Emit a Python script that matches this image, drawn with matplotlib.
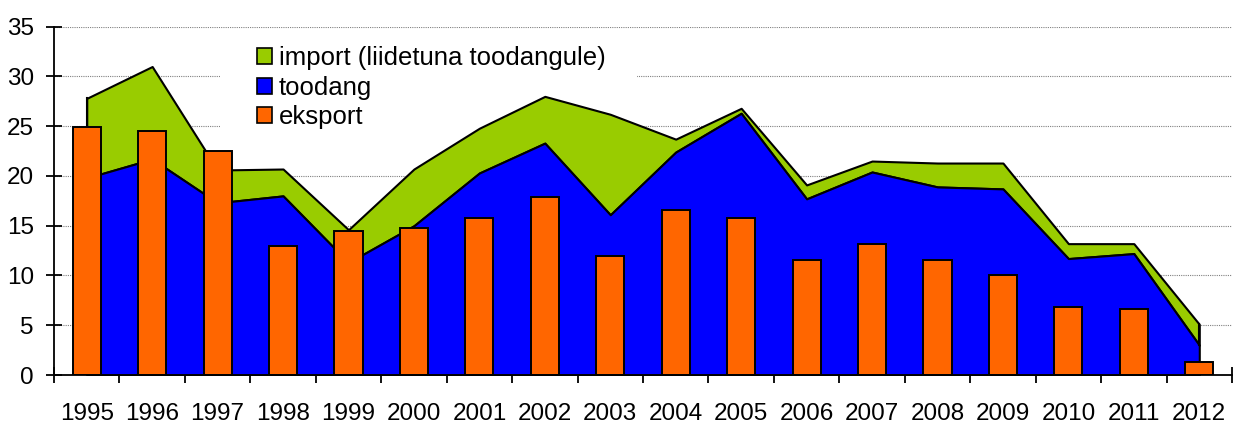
import matplotlib
matplotlib.use("Agg")
import matplotlib.pyplot as plt
import numpy as np
from matplotlib.patches import Rectangle, Patch

years = ["1995", "1996", "1997", "1998", "1999", "2000", "2001", "2002", "2003",
         "2004", "2005", "2006", "2007", "2008", "2009", "2010", "2011", "2012"]
toodang = [19.8, 21.7, 17.3, 18.0, 11.3, 15.0, 20.3, 23.3, 16.1,
           22.4, 26.3, 17.7, 20.4, 18.9, 18.7, 11.7, 12.2, 3.0]
import_ = [8.0, 9.3, 3.3, 2.7, 3.3, 5.7, 4.5, 4.7, 10.1,
           1.3, 0.5, 1.4, 1.1, 2.4, 2.6, 1.5, 1.0, 2.1]
eksport = [24.9, 24.5, 22.5, 13.0, 14.5, 14.8, 15.8, 17.9, 12.0,
           16.6, 15.8, 11.6, 13.2, 11.6, 10.0, 6.8, 6.6, 1.35]
labels = ["import (liidetuna toodangule)", "toodang", "eksport"]

GREEN = "#99CC00"
BLUE = "#0000FF"
ORANGE = "#FF6600"
FS = 17.5
LFS = 18.5

plt.rcParams['font.family'] = ['Liberation Sans', 'DejaVu Sans']
plt.rcParams['font.size'] = FS

W, H = 1242, 426
fig = plt.figure(figsize=(W / 100, H / 100), dpi=100)
L, R, B, T = 54, 1232, 375, 26.7
ax = fig.add_axes([L / W, 1 - B / H, (R - L) / W, (B - T) / H])

x = np.arange(len(years))
total = np.array(toodang) + np.array(import_)

ax.fill_between(x, toodang, total, facecolor=GREEN, edgecolor="black", linewidth=1.5, zorder=2)
ax.fill_between(x, 0, toodang, facecolor=BLUE, edgecolor="black", linewidth=1.5, zorder=3)
ax.plot([x[0], x[0]], [toodang[0], total[0]], color="black", lw=1.5, zorder=3)
ax.plot([x[-1], x[-1]], [toodang[-1], total[-1]], color="black", lw=1.5, zorder=3)
ax.bar(x, eksport, width=0.43, color=ORANGE, edgecolor="black", linewidth=1.4, zorder=4)

ax.set_xlim(-0.5, len(years) - 0.5)
ax.set_ylim(0, 35)
ax.set_yticks(np.arange(0, 36, 5))
ax.set_xticks(x)
ax.set_xticklabels(years)
ax.set_xticks(np.arange(-0.5, len(years), 1), minor=True)
ax.tick_params(axis='x', which='major', length=0, pad=20, labelsize=FS)
ax.tick_params(axis='x', which='minor', length=11, width=1.3, direction='inout')
ax.tick_params(axis='y', which='major', length=11, width=1.3, direction='inout', pad=9, labelsize=FS)

for yv in range(5, 36, 5):
    ax.axhline(yv, color="#808080", lw=0.8, ls=(0, (1, 1)), zorder=0.5)

for s in ["top", "right"]:
    ax.spines[s].set_visible(False)
for s in ["left", "bottom"]:
    ax.spines[s].set_linewidth(1.3)
    ax.spines[s].set_zorder(6)

# white legend background (behind series, above grid)
def px2ax(px, py):
    return (px - L) / (R - L), (B - py) / (B - T)
x0, y1 = px2ax(220, 35)
x1, y0 = px2ax(637, 140)
ax.add_patch(Rectangle((x0, y0), x1 - x0, y1 - y0, transform=ax.transAxes,
                       facecolor="white", edgecolor="none", zorder=0.6))

handles = [Patch(facecolor=GREEN, edgecolor="black", lw=1.2),
           Patch(facecolor=BLUE, edgecolor="black", lw=1.2),
           Patch(facecolor=ORANGE, edgecolor="black", lw=1.2)]
ax_x, ax_y = px2ax(257, 46)
em = LFS * 100 / 72
hl = 15 / em
leg = ax.legend(handles, labels, loc="upper left", bbox_to_anchor=(ax_x, ax_y),
                frameon=False, borderpad=0, borderaxespad=0, handlelength=hl,
                handleheight=hl, handletextpad=7 / em, labelspacing=0.22, fontsize=LFS)
leg.set_zorder(10)

fig.savefig("out.png", dpi=100)
